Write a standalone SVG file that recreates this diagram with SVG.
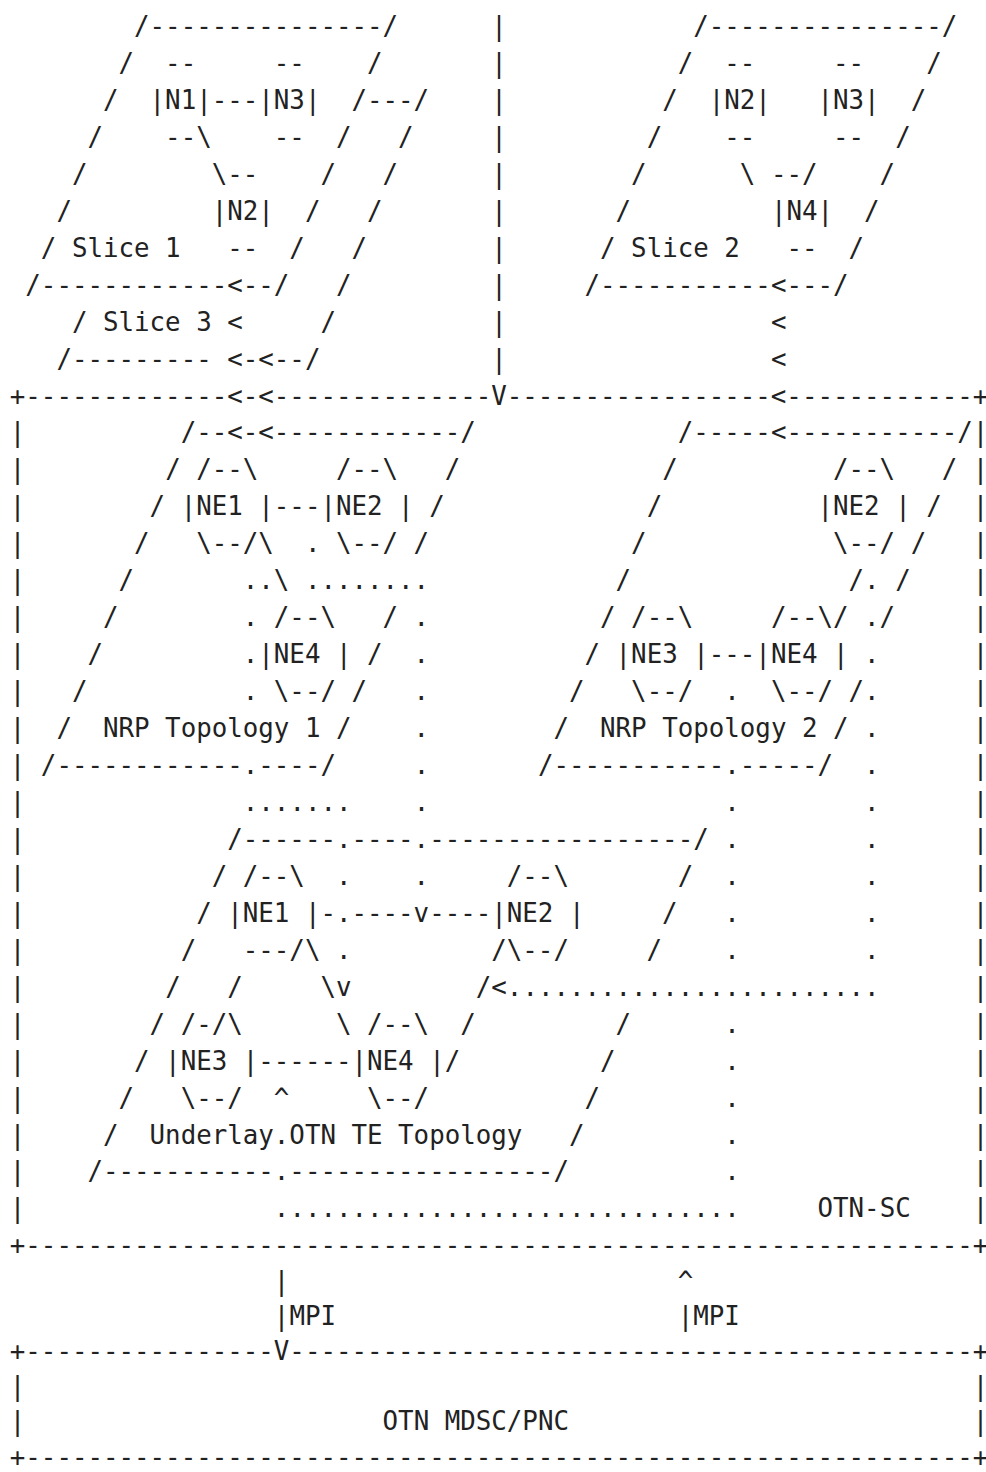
<svg xmlns="http://www.w3.org/2000/svg" width="986" height="1472" viewBox="0 0 986 1472" xml:space="preserve">
<style>
text{font-family:"DejaVu Sans Mono","Liberation Mono",monospace;font-size:25.8px;fill:#222;white-space:pre}
</style>
<rect x="0" y="0" width="986" height="1472" fill="#ffffff"/>
<g id="slice-1-and-3">
<text><tspan x="134.06" y="35">/---------------/</tspan><tspan x="118.53" y="71.95">/  --     --    /</tspan><tspan x="103.00" y="108.9">/  |N1|---|N3|  /---/</tspan><tspan x="87.47" y="145.85">/    --\    --  /   /</tspan><tspan x="71.93" y="182.8">/        \--    /   /</tspan><tspan x="56.40" y="219.75">/         |N2|  /   /</tspan><tspan x="40.87" y="256.7">/ Slice 1   --  /   /</tspan><tspan x="25.33" y="293.65">/------------&lt;--/   /</tspan><tspan x="71.93" y="330.6">/ Slice 3 &lt;     /</tspan><tspan x="56.40" y="367.55">/--------- &lt;-&lt;--/</tspan></text>
</g>
<g id="slice-2">
<text><tspan x="693.25" y="35">/---------------/</tspan><tspan x="677.72" y="71.95">/  --     --    /</tspan><tspan x="662.19" y="108.9">/  |N2|   |N3|  /</tspan><tspan x="646.65" y="145.85">/    --     --  /</tspan><tspan x="631.12" y="182.8">/      \ --/    /</tspan><tspan x="615.59" y="219.75">/         |N4|  /</tspan><tspan x="600.05" y="256.7">/ Slice 2   --  /</tspan><tspan x="584.52" y="293.65">/-----------&lt;---/</tspan></text>
</g>
<g id="otn-sc">
<text><tspan x="9.8" y="404.5">+-------------&lt;-&lt;--------------V-----------------&lt;------------+</tspan><tspan x="9.8" y="441.45">|</tspan><tspan x="9.8" y="478.4">|</tspan><tspan x="9.8" y="515.35">|</tspan><tspan x="9.8" y="552.3">|</tspan><tspan x="9.8" y="589.25">|</tspan><tspan x="9.8" y="626.2">|</tspan><tspan x="9.8" y="663.15">|</tspan><tspan x="9.8" y="700.1">|</tspan><tspan x="9.8" y="737.05">|</tspan><tspan x="9.8" y="774">|</tspan><tspan x="9.8" y="810.95">|</tspan><tspan x="9.8" y="847.9">|</tspan><tspan x="9.8" y="884.85">|</tspan><tspan x="9.8" y="921.8">|</tspan><tspan x="9.8" y="958.75">|</tspan><tspan x="9.8" y="995.7">|</tspan><tspan x="9.8" y="1032.65">|</tspan><tspan x="9.8" y="1069.6">|</tspan><tspan x="9.8" y="1106.55">|</tspan><tspan x="9.8" y="1143.5">|</tspan><tspan x="9.8" y="1180.45">|</tspan><tspan x="9.8" y="1217.4">|</tspan><tspan x="972.85" y="441.45">|</tspan><tspan x="972.85" y="478.4">|</tspan><tspan x="972.85" y="515.35">|</tspan><tspan x="972.85" y="552.3">|</tspan><tspan x="972.85" y="589.25">|</tspan><tspan x="972.85" y="626.2">|</tspan><tspan x="972.85" y="663.15">|</tspan><tspan x="972.85" y="700.1">|</tspan><tspan x="972.85" y="737.05">|</tspan><tspan x="972.85" y="774">|</tspan><tspan x="972.85" y="810.95">|</tspan><tspan x="972.85" y="847.9">|</tspan><tspan x="972.85" y="884.85">|</tspan><tspan x="972.85" y="921.8">|</tspan><tspan x="972.85" y="958.75">|</tspan><tspan x="972.85" y="995.7">|</tspan><tspan x="972.85" y="1032.65">|</tspan><tspan x="972.85" y="1069.6">|</tspan><tspan x="972.85" y="1106.55">|</tspan><tspan x="972.85" y="1143.5">|</tspan><tspan x="972.85" y="1180.45">|</tspan><tspan x="972.85" y="1217.4">|</tspan><tspan x="817.52" y="1217.4">OTN-SC</tspan><tspan x="9.8" y="1254.35">+-------------------------------------------------------------+</tspan></text>
</g>
<g id="nrp-topology-1">
<text><tspan x="180.66" y="441.45">/--&lt;-&lt;------------/</tspan><tspan x="165.13" y="478.4">/ /--\     /--\   /</tspan><tspan x="149.60" y="515.35">/ |NE1 |---|NE2 | /</tspan><tspan x="134.06" y="552.3">/   \--/\  . \--/ /</tspan><tspan x="118.53" y="589.25">/       ..\ ........</tspan><tspan x="103.00" y="626.2">/        . /--\   / .</tspan><tspan x="87.47" y="663.15">/         .|NE4 | /  .</tspan><tspan x="71.93" y="700.1">/          . \--/ /   .</tspan><tspan x="56.40" y="737.05">/  NRP Topology 1 /    .</tspan><tspan x="40.87" y="774">/------------.----/</tspan></text>
</g>
<g id="nrp-topology-2">
<text><tspan x="677.72" y="441.45">/-----&lt;-----------/</tspan><tspan x="662.19" y="478.4">/          /--\   /</tspan><tspan x="646.65" y="515.35">/          |NE2 | /</tspan><tspan x="631.12" y="552.3">/            \--/ /</tspan><tspan x="615.59" y="589.25">/              /. /</tspan><tspan x="600.05" y="626.2">/ /--\     /--\/ ./</tspan><tspan x="584.52" y="663.15">/ |NE3 |---|NE4 | .</tspan><tspan x="568.99" y="700.1">/   \--/  .  \--/ /.</tspan><tspan x="553.46" y="737.05">/  NRP Topology 2 / .</tspan><tspan x="537.92" y="774">/-----------.-----/</tspan></text>
</g>
<g id="underlay-otn-te-topology">
<text><tspan x="227.26" y="847.9">/------.----.-----------------/</tspan><tspan x="211.73" y="884.85">/ /--\  .    .     /--\       /</tspan><tspan x="196.20" y="921.8">/ |NE1 |-.----v----|NE2 |     /</tspan><tspan x="180.66" y="958.75">/   ---/\ .         /\--/     /</tspan><tspan x="165.13" y="995.7">/   /     \v        /&lt;</tspan><tspan x="149.60" y="1032.65">/ /-/\      \ /--\  /         /</tspan><tspan x="134.06" y="1069.6">/ |NE3 |------|NE4 |/         /</tspan><tspan x="118.53" y="1106.55">/   \--/  ^     \--/          /</tspan><tspan x="103.00" y="1143.5">/  Underlay.OTN TE Topology   /</tspan><tspan x="87.47" y="1180.45">/-----------.-----------------/</tspan></text>
</g>
<g id="otn-mdsc-pnc">
<text><tspan x="9.8" y="1359.9">+----------------V--------------------------------------------+</tspan><tspan x="9.8" y="1395.1">|</tspan><tspan x="972.85" y="1395.1">|</tspan><tspan x="9.8" y="1430.3">|</tspan><tspan x="382.59" y="1430.3">OTN MDSC/PNC</tspan><tspan x="972.85" y="1430.3">|</tspan><tspan x="9.8" y="1465.5">+-------------------------------------------------------------+</tspan></text>
</g>
<g id="connectors">
<text><tspan x="491.32" y="35">|</tspan><tspan x="491.32" y="71.95">|</tspan><tspan x="491.32" y="108.9">|</tspan><tspan x="491.32" y="145.85">|</tspan><tspan x="491.32" y="182.8">|</tspan><tspan x="491.32" y="219.75">|</tspan><tspan x="491.32" y="256.7">|</tspan><tspan x="491.32" y="293.65">|</tspan><tspan x="491.32" y="330.6">|</tspan><tspan x="491.32" y="367.55">|</tspan><tspan x="770.92" y="330.6">&lt;</tspan><tspan x="770.92" y="367.55">&lt;</tspan><tspan x="413.66" y="774">.</tspan><tspan x="864.12" y="774">.</tspan><tspan x="242.80" y="810.95">.......</tspan><tspan x="413.66" y="810.95">.</tspan><tspan x="724.32" y="810.95">.</tspan><tspan x="864.12" y="810.95">.</tspan><tspan x="724.32" y="847.9">.</tspan><tspan x="864.12" y="847.9">.</tspan><tspan x="724.32" y="884.85">.</tspan><tspan x="864.12" y="884.85">.</tspan><tspan x="724.32" y="921.8">.</tspan><tspan x="864.12" y="921.8">.</tspan><tspan x="724.32" y="958.75">.</tspan><tspan x="864.12" y="958.75">.</tspan><tspan x="506.86" y="995.7">........................</tspan><tspan x="724.32" y="1032.65">.</tspan><tspan x="724.32" y="1069.6">.</tspan><tspan x="724.32" y="1106.55">.</tspan><tspan x="724.32" y="1143.5">.</tspan><tspan x="724.32" y="1180.45">.</tspan><tspan x="273.86" y="1217.4">..............................</tspan><tspan x="273.86" y="1289.5">|</tspan><tspan x="677.72" y="1289.5">^</tspan><tspan x="273.86" y="1324.7">|MPI</tspan><tspan x="677.72" y="1324.7">|MPI</tspan></text>
</g>
</svg>
